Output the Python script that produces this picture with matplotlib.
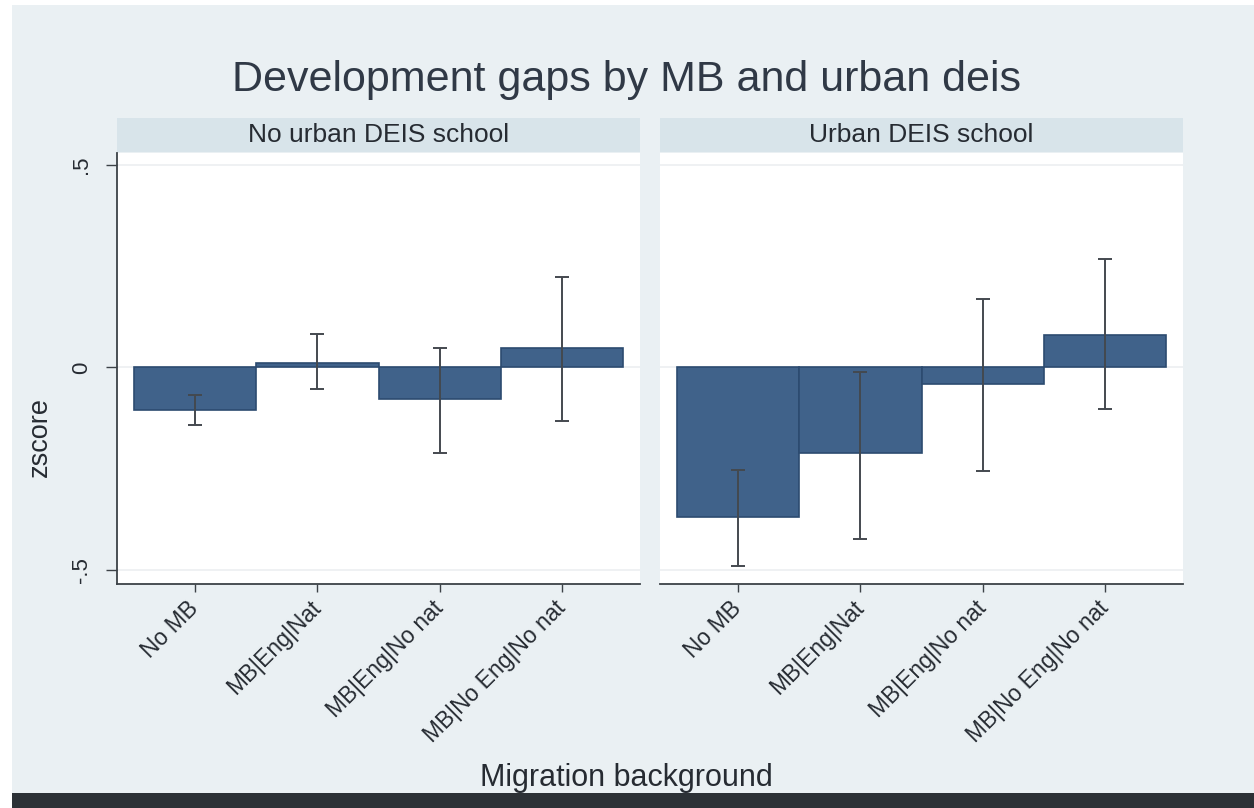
import numpy as np
import matplotlib
matplotlib.use('Agg')
import matplotlib.pyplot as plt
from matplotlib.patches import Rectangle

# ── data ────────────────────────────────────────────────────────────────────
categories = ['No MB', 'MB|Eng|Nat', 'MB|Eng|No nat', 'MB|No Eng|No nat']
panels = ['No urban DEIS school', 'Urban DEIS school']

# mean zscore per group, and lower / upper ends of the CI
mean_no_deis = [-0.106, 0.011, -0.077, 0.047]
lo_no_deis   = [-0.141, -0.054, -0.210, -0.133]
hi_no_deis   = [-0.069, 0.082, 0.047, 0.224]

mean_deis = [-0.369, -0.210, -0.042, 0.081]
lo_deis   = [-0.490, -0.423, -0.255, -0.102]
hi_deis   = [-0.252, -0.010, 0.168, 0.268]

yticks = [-0.5, 0, 0.5]
ytick_labels = ['-.5', '0', '.5']

title = 'Development gaps by MB and urban deis'
ytitle = 'zscore'
xtitle = 'Migration background'

# ── style ───────────────────────────────────────────────────────────────────
plt.rcParams['font.family'] = ['Liberation Sans', 'DejaVu Sans']
BG       = '#eaf0f3'
STRIP    = '#d8e4ea'
BAR      = '#40628a'
BAR_EDGE = '#2c4b70'
ERR      = '#44494f'
TXT      = '#262b32'
AXC      = '#3c4247'

W, H = 1254, 808
fig = plt.figure(figsize=(W / 100, H / 100), dpi=100, facecolor='white')

# background panel, white margin top/left, dark strip at the bottom
fig.patches.append(Rectangle((12 / W, 15 / H), 1 - 12 / W, 1 - 20 / H,
                             transform=fig.transFigure, facecolor=BG,
                             edgecolor='none', zorder=-10))
fig.patches.append(Rectangle((12 / W, 0), 1 - 12 / W, 15 / H,
                             transform=fig.transFigure, facecolor='#2c3136',
                             edgecolor='none', zorder=-10))


def px_box(x0, y0, x1, y1):
    """pixel box (top-left origin) -> figure fraction rect."""
    return [x0 / W, 1 - y1 / H, (x1 - x0) / W, (y1 - y0) / H]


panel_x = [(117, 640), (660, 1183)]
data = [(mean_no_deis, lo_no_deis, hi_no_deis), (mean_deis, lo_deis, hi_deis)]
x = np.arange(1, len(categories) + 1)

for i, ((x0, x1), (m, lo, hi), name) in enumerate(zip(panel_x, data, panels)):
    # strip header
    sax = fig.add_axes(px_box(x0, 118, x1, 152))
    sax.set_facecolor(STRIP)
    sax.set_xticks([]); sax.set_yticks([])
    for s in sax.spines.values():
        s.set_visible(False)
    sax.text(0.5, 0.5, name, ha='center', va='center', fontsize=19,
             color=TXT, transform=sax.transAxes)

    ax = fig.add_axes(px_box(x0, 153, x1, 584))
    ax.set_facecolor('white')
    m, lo, hi = np.array(m), np.array(lo), np.array(hi)
    ax.bar(x, m, width=1.0, color=BAR, edgecolor=BAR_EDGE, linewidth=1.2, zorder=2)
    ax.errorbar(x, m, yerr=[m - lo, hi - m], fmt='none', ecolor=ERR,
                elinewidth=1.4, capsize=5, capthick=1.4, zorder=3)
    for yt in yticks:
        ax.axhline(yt, color='#eceff1', lw=1.2, zorder=0)
    ax.set_xlim(0.36, 4.64)
    ax.set_ylim(-0.5346, 0.5296)

    ax.set_xticks(x)
    ax.set_xticklabels(categories, rotation=45, ha='right', va='center',
                       rotation_mode='anchor', fontsize=16.5, color=TXT)
    ax.tick_params(axis='x', length=6, width=1, color=AXC, pad=9)

    for s in ('top', 'right'):
        ax.spines[s].set_visible(False)
    ax.spines['bottom'].set_color(AXC)
    ax.spines['bottom'].set_linewidth(1.3)
    if i == 0:
        ax.set_yticks(yticks)
        ax.set_yticklabels(ytick_labels, rotation=90, va='center',
                           fontsize=16, color=TXT)
        ax.tick_params(axis='y', length=8, width=1, color=AXC, pad=10)
        ax.spines['left'].set_color(AXC)
        ax.spines['left'].set_linewidth(1.3)
    else:
        ax.set_yticks([])
        ax.spines['left'].set_visible(False)

fig.text(627 / W, 1 - 80 / H, title, ha='center', va='center', fontsize=31,
         color='#303946')
fig.text(40 / W, 1 - 437 / H, ytitle, rotation=90, ha='center', va='center',
         fontsize=19.5, color=TXT)
fig.text(626 / W, 1 - 778 / H, xtitle, ha='center', va='center',
         fontsize=22, color=TXT)

fig.savefig('out.png', dpi=100, facecolor=fig.get_facecolor())
